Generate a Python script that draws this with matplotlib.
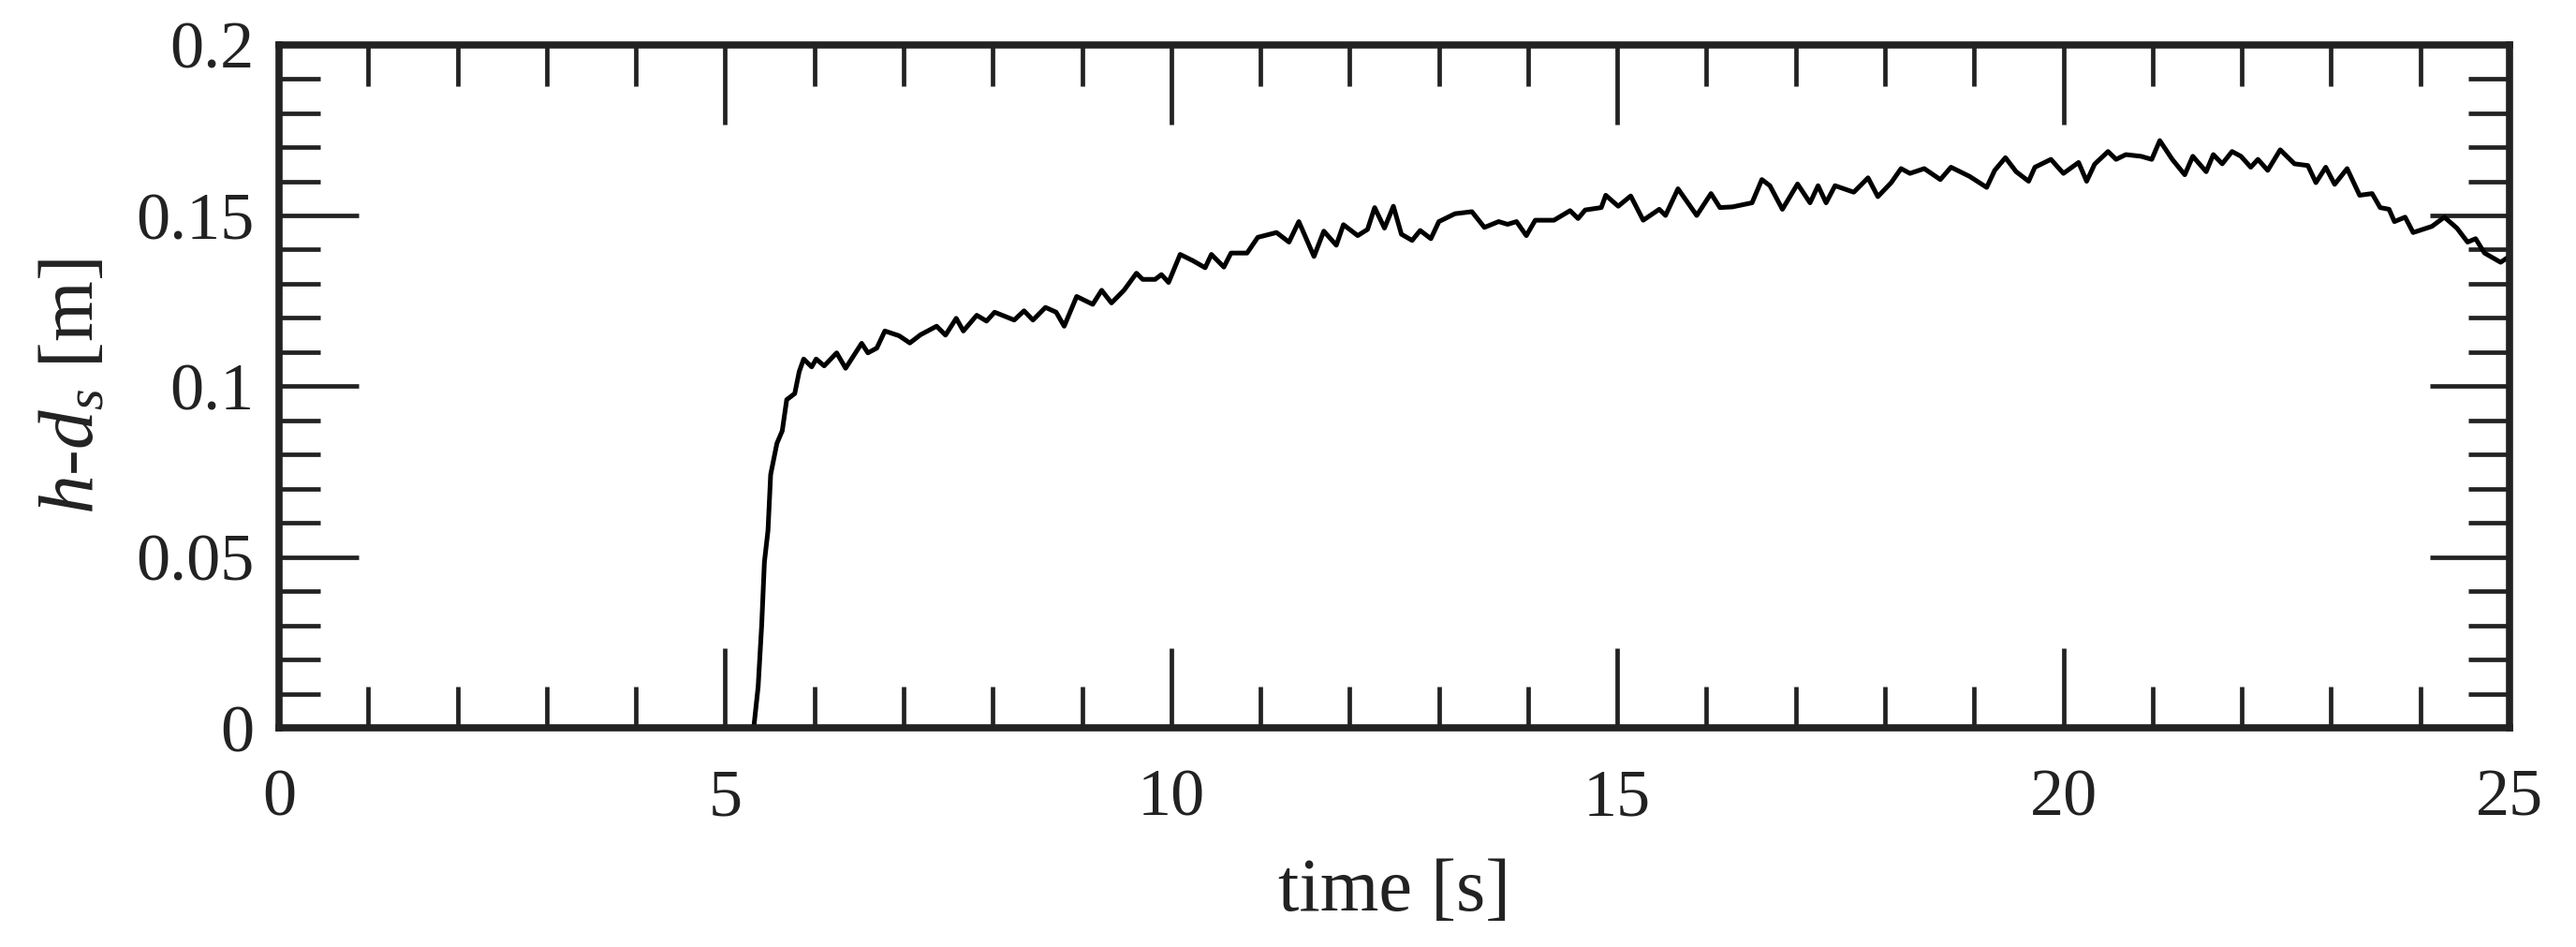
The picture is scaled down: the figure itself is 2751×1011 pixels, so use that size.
import matplotlib
matplotlib.use("Agg")
import matplotlib.pyplot as plt
from matplotlib.ticker import MultipleLocator

time_s = [0.00, 5.32, 5.37, 5.41, 5.44, 5.48, 5.51, 5.58, 5.64, 5.69, 5.78, 5.83, 5.88, 5.97,
          6.02, 6.11, 6.25, 6.35, 6.53, 6.60, 6.70, 6.79, 6.95, 7.07, 7.19, 7.37, 7.47, 7.59,
          7.67, 7.82, 7.93, 8.02, 8.24, 8.35, 8.45, 8.59, 8.71, 8.80, 8.94, 9.12, 9.22, 9.33,
          9.47, 9.61, 9.68, 9.82, 9.89, 9.97, 10.10, 10.24, 10.38, 10.45, 10.59, 10.67, 10.85,
          10.97, 11.18, 11.32, 11.43, 11.60, 11.71, 11.85, 11.93, 12.09, 12.20, 12.28, 12.39,
          12.49, 12.58, 12.70, 12.79, 12.91, 13.00, 13.18, 13.37, 13.51, 13.67, 13.77, 13.87,
          13.98, 14.08, 14.29, 14.47, 14.56, 14.64, 14.82, 14.87, 15.01, 15.15, 15.29, 15.47,
          15.54, 15.68, 15.89, 16.05, 16.15, 16.29, 16.51, 16.62, 16.71, 16.85, 17.02, 17.16,
          17.25, 17.34, 17.44, 17.65, 17.81, 17.92, 18.07, 18.18, 18.28, 18.44, 18.62, 18.74,
          18.95, 19.14, 19.23, 19.35, 19.47, 19.61, 19.68, 19.86, 20.00, 20.17, 20.26, 20.35,
          20.50, 20.59, 20.70, 20.87, 20.99, 21.08, 21.22, 21.36, 21.45, 21.60, 21.68, 21.78,
          21.89, 21.99, 22.10, 22.18, 22.29, 22.43, 22.59, 22.74, 22.83, 22.94, 23.04, 23.18,
          23.32, 23.46, 23.55, 23.65, 23.71, 23.83, 23.92, 24.13, 24.27, 24.41, 24.53, 24.62,
          24.72, 24.90, 24.98]

h_minus_ds = [0.0, 0.0, 0.0122, 0.0304, 0.0486, 0.0578, 0.0742, 0.0833, 0.087, 0.0961, 0.0979,
              0.1043, 0.108, 0.1057, 0.108, 0.106, 0.1098, 0.1053, 0.1126, 0.1098, 0.1112,
              0.1162, 0.1148, 0.1127, 0.1151, 0.1176, 0.115, 0.1199, 0.1162, 0.1208, 0.1191,
              0.1217, 0.1194, 0.1221, 0.1194, 0.1231, 0.1217, 0.1176, 0.1263, 0.124, 0.1281,
              0.1244, 0.1281, 0.1331, 0.1313, 0.1313, 0.1327, 0.1304, 0.1386, 0.1368, 0.1347,
              0.1386, 0.1349, 0.139, 0.139, 0.1436, 0.145, 0.1422, 0.1482, 0.138, 0.1454,
              0.1413, 0.1473, 0.1441, 0.1459, 0.1523, 0.1463, 0.1527, 0.1445, 0.1427, 0.1456,
              0.1432, 0.1482, 0.1505, 0.1511, 0.1465, 0.1482, 0.1474, 0.1482, 0.1441, 0.1486,
              0.1486, 0.1514, 0.1491, 0.1516, 0.1523, 0.1559, 0.1527, 0.1557, 0.1486, 0.1518,
              0.15, 0.1578, 0.15, 0.1564, 0.1523, 0.1525, 0.1537, 0.1605, 0.1587, 0.1518,
              0.1592, 0.1537, 0.1587, 0.1537, 0.1587, 0.1568, 0.161, 0.1555, 0.1596, 0.1637,
              0.1623, 0.1637, 0.1605, 0.1641, 0.1614, 0.1582, 0.1632, 0.1669, 0.1628, 0.16,
              0.1641, 0.1664, 0.1623, 0.1655, 0.16, 0.165, 0.1687, 0.1664, 0.1678, 0.1673,
              0.1664, 0.1719, 0.1664, 0.1619, 0.1673, 0.1628, 0.1678, 0.1651, 0.1687, 0.1673,
              0.1641, 0.1664, 0.1632, 0.1692, 0.1651, 0.1646, 0.1596, 0.1641, 0.1591, 0.1637,
              0.1559, 0.1564, 0.1523, 0.1518, 0.1482, 0.1495, 0.145, 0.1468, 0.1495, 0.1463,
              0.1422, 0.1432, 0.139, 0.1363, 0.1377]

x_ticks = [0, 5, 10, 15, 20, 25]
y_ticks = [0, 0.05, 0.1, 0.15, 0.2]
y_tick_labels = ["0", "0.05", "0.1", "0.15", "0.2"]

plt.rcParams["font.family"] = ["Liberation Serif", "DejaVu Serif"]
plt.rcParams["mathtext.fontset"] = "custom"
plt.rcParams["mathtext.rm"] = "Liberation Serif"
plt.rcParams["mathtext.it"] = "Liberation Serif:italic"

fig = plt.figure(figsize=(27.51, 10.11), dpi=100)
ax = fig.add_axes([0.10833, 0.2310, 0.97419 - 0.10833, 0.9530 - 0.2310])

ax.plot(time_s, h_minus_ds, color="black", linewidth=3.6, solid_joinstyle="round")

ax.set_xlim(0, 25)
ax.set_ylim(0, 0.2)
ax.set_xticks(x_ticks)
ax.set_xticklabels([str(v) for v in x_ticks])
ax.set_yticks(y_ticks)
ax.set_yticklabels(y_tick_labels)
ax.xaxis.set_minor_locator(MultipleLocator(1))
ax.yaxis.set_minor_locator(MultipleLocator(0.01))

tc = "#222222"
ax.tick_params(which="both", direction="in", top=True, right=True, colors=tc,
               labelcolor="#222222", labelsize=52)
ax.tick_params(which="major", length=61, width=3.4)
ax.tick_params(which="minor", length=32, width=3.4)
ax.tick_params(axis="x", which="major", pad=31)
ax.tick_params(axis="y", which="major", pad=19)

for s in ax.spines.values():
    s.set_linewidth(5.5)
    s.set_color(tc)

ax.set_xlabel("time [s]", fontsize=58, color="#222222", labelpad=22)
ax.set_ylabel("$h$-$d_s$ [m]", fontsize=60, color="#222222", labelpad=20)

fig.savefig("out.png", dpi=100, facecolor="white")
